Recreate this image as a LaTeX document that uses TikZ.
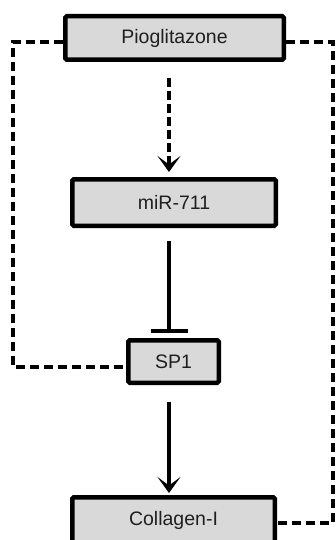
\documentclass[tikz,border=0pt]{standalone}
\usepackage{fontspec}
\setmainfont{Liberation Sans}
\usetikzlibrary{arrows.meta}
\definecolor{boxfill}{HTML}{D9D9D9}
\definecolor{boxtext}{HTML}{1F1F1F}
\begin{document}
\begin{tikzpicture}[x=1pt,y=-1pt,
  genebox/.style={draw=black, line width=4.5pt, fill=boxfill, rounded corners=1.5pt,
    text=boxtext, font=\fontsize{19.5}{23}\selectfont, inner sep=0pt},
  feedback/.style={line width=3.5pt, dash pattern=on 9pt off 5pt},
  chevron/.style={-{Stealth[length=16pt,width=23pt,inset=8.5pt]}, line width=4.5pt},
  dashedlink/.style={chevron, dash pattern=on 9pt off 4pt},
  inhibit/.style={-{Bar[width=37pt,line width=4.5pt]}, line width=4.5pt}]
  \useasboundingbox (0,0) rectangle (336,540);

  % gene / drug boxes
  \node[genebox, minimum width=218.5pt, minimum height=43.5pt] (pio) at (174.5,38) {Pioglitazone};
  \node[genebox, minimum width=203.5pt, minimum height=46.5pt] (mir) at (174,202.5) {miR-711};
  \node[genebox, minimum width=90.5pt, minimum height=42.5pt] (sp1) at (173.5,361.5) {SP1};
  \node[genebox, minimum width=202.5pt, minimum height=45.5pt] (col) at (173.5,520) {Collagen-I};

  % anchor points of the connectors
  \coordinate (pioS) at (169,78);
  \coordinate (mirT) at (169,172);
  \coordinate (mirS) at (169,241);
  \coordinate (sp1T) at (169,333);
  \coordinate (sp1S) at (169,402);
  \coordinate (colT) at (169,493);
  \coordinate (lcorner) at (13,42);
  \coordinate (rcorner) at (333,42);

  % main cascade
  \draw[dashedlink] (pioS) -- (mirT);
  \draw[inhibit] (mirS) -- (sp1T);
  \draw[chevron] (sp1S) -- (colT);

  % side feedback routes
  \draw[feedback] (pio.west |- lcorner) -- (lcorner) |- (sp1.west |- 0,367);
  \draw[feedback] (pio.east |- rcorner) -- (rcorner) |- (col.east |- 0,523);
\end{tikzpicture}
\end{document}
